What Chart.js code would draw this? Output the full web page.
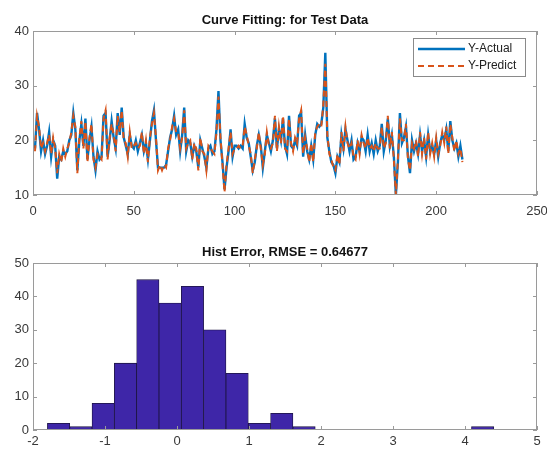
<!DOCTYPE html>
<html>
<head>
<meta charset="utf-8">
<script src="https://cdn.jsdelivr.net/npm/chart.js@4.4.0/dist/chart.umd.min.js"></script>
<style>
    body { margin: 0; background: #fff; }
    .panel { position: absolute; left: 0; }
</style>
</head>
<body>
<div class="panel" style="top:0"><canvas id="fitChart" width="547" height="222"></canvas></div>
<div class="panel" style="top:232px"><canvas id="histChart" width="547" height="217"></canvas></div>
<script>
// Curve fitting data (test set, 213 samples)
const yActual = [
    18.5, 25, 22, 18, 20, 17.5, 19, 21.5, 17, 20,
    19, 13, 17, 16.5, 18, 17.5, 18, 20, 21, 25,
    22, 14.5, 20, 23, 19, 24, 16.5, 20, 22.5, 17,
    14.5, 18, 16.5, 17, 24.5, 25, 17, 20, 23.5, 20.5,
    18.5, 25, 21, 26, 20.5, 19, 17.5, 21, 19, 18.5,
    20, 18, 19.5, 21, 18, 19.5, 16.5, 20, 23.5, 25.5,
    20, 15, 15, 15, 15, 15.5, 18, 20.5, 22, 24.5,
    21, 22, 18, 21, 26, 18, 20, 19.5, 17, 19,
    18, 15, 20, 18.5, 17, 15, 18.5, 19, 17.5, 18,
    22, 29, 20, 16, 11, 15, 18, 22, 17, 19,
    19, 18.5, 19, 18.5, 23, 20.5, 19.5, 17, 14.5, 16,
    19, 21, 19, 15, 18, 21, 19.5, 18, 20, 24,
    18.5, 22, 20, 24, 19, 17.5, 24.5, 19, 18.5, 20,
    19, 24.5, 25, 17, 21, 18, 16.5, 19, 16.5, 21,
    23, 22.5, 23, 26, 36, 20.5, 18, 16, 15.5, 14,
    17, 16, 21, 18.5, 22, 20, 18, 20, 16.5, 17,
    19.5, 18, 20.5, 20, 18, 21, 18, 19.5, 17.5, 20,
    18, 19, 23, 18, 20, 24, 19, 21, 17, 10,
    16, 25, 19.5, 20.5, 22.5, 17, 14, 20, 18, 19.5,
    17.5, 21, 18, 20, 17, 21, 18, 19, 17.5, 20,
    17, 19.5, 21, 20, 22, 18, 23.5, 20, 18.5, 19.5,
    17, 19, 16.5
];
const yPredict = [
    18, 24.5, 22.5, 18.5, 19.5, 18, 19.5, 21, 17.5, 20.5,
    18.5, 14, 17.5, 16, 18.5, 17, 18.5, 19.5, 21.5, 24.5,
    22.5, 14, 20.5, 23.5, 18.5, 23.5, 16, 20.5, 23, 16.5,
    15, 17.5, 17, 16.5, 24, 25.5, 16.5, 20.5, 23, 21,
    18, 24.5, 21.5, 25.5, 20, 19.5, 17, 21.5, 18.5, 19,
    19.5, 18.5, 19, 21.5, 17.5, 20, 16, 20.5, 23, 25,
    20.5, 14.5, 15.5, 14.5, 15.5, 15, 18.5, 20, 22.5, 24,
    21.5, 21.5, 18.5, 20.5, 25.5, 18.5, 19.5, 20, 16.5, 19.5,
    18.5, 14.5, 20.5, 18, 17.5, 14.5, 19, 18.5, 18, 17.5,
    21.5, 28, 20.5, 15.5, 10.5, 15.5, 18.5, 21.5, 17.5, 18.5,
    18.5, 19, 18.5, 19, 22.5, 21, 19, 17.5, 14, 16.5,
    18.5, 21.5, 18.5, 15.5, 17.5, 21.5, 19, 18.5, 19.5, 24.5,
    18, 22.5, 19.5, 24.5, 18.5, 18, 24, 19.5, 18, 20.5,
    19.5, 24, 25.5, 17.5, 20.5, 18.5, 16, 19.5, 16, 21.5,
    22.5, 23, 22.5, 26.5, 34, 21, 17.5, 16.5, 15, 14.5,
    17.5, 15.5, 21.5, 18, 22.5, 19.5, 18.5, 19.5, 17, 16.5,
    20, 17.5, 21, 19.5, 18.5, 20.5, 18.5, 19, 18, 19.5,
    18.5, 18.5, 22.5, 18.5, 19.5, 24.5, 18.5, 21.5, 16.5, 10,
    16.5, 24, 20, 20, 23, 16.5, 14.5, 19.5, 18.5, 20,
    17, 21.5, 17.5, 20.5, 16.5, 21.5, 17.5, 19.5, 17, 20.5,
    17.5, 19, 21.5, 19.5, 22.5, 17.5, 23, 20.5, 18, 20,
    17.5, 18.5, 16
];

// Error histogram
const binCenters = [-1.645, -1.335, -1.025, -0.715, -0.405, -0.095, 0.215, 0.525, 0.835, 1.145,
                    1.455, 1.765, 2.075, 2.385, 2.695, 3.005, 3.315, 3.625, 3.935, 4.245];
const binCounts = [2, 1, 8, 20, 45, 38, 43, 30, 17, 2, 5, 1, 0, 0, 0, 0, 0, 0, 0, 1];

const fitTitle = 'Curve Fitting: for Test Data';
const histTitle = 'Hist Error, RMSE = 0.64677';

Chart.defaults.font.family = "'Liberation Sans', Arial, sans-serif";
Chart.defaults.font.size = 13;
Chart.defaults.color = '#383838';
Chart.defaults.animation = false;

// MATLAB style box with inward ticks
const axesBox = {
    id: 'axesBox',
    afterDraw(chart) {
        const { ctx, chartArea: a, scales } = chart;
        const len = 4;
        ctx.save();
        ctx.strokeStyle = '#9a9a9a';
        ctx.lineWidth = 1;
        ctx.strokeRect(a.left + 0.5, a.top + 0.5, a.width - 1, a.height - 1);
        ctx.beginPath();
        scales.x.ticks.forEach(t => {
            const px = Math.round(scales.x.getPixelForValue(t.value)) + 0.5;
            ctx.moveTo(px, a.bottom); ctx.lineTo(px, a.bottom - len);
            ctx.moveTo(px, a.top); ctx.lineTo(px, a.top + len);
        });
        scales.y.ticks.forEach(t => {
            const py = Math.round(scales.y.getPixelForValue(t.value)) + 0.5;
            ctx.moveTo(a.left, py); ctx.lineTo(a.left + len, py);
            ctx.moveTo(a.right, py); ctx.lineTo(a.right - len, py);
        });
        ctx.stroke();
        ctx.restore();
    }
};

// Title centred over the axes
const axesTitle = {
    id: 'axesTitle',
    afterDraw(chart, args, opts) {
        const { ctx, chartArea: a } = chart;
        ctx.save();
        ctx.font = "bold 13px 'Liberation Sans', Arial, sans-serif";
        ctx.fillStyle = '#111';
        ctx.textAlign = 'center';
        ctx.textBaseline = 'alphabetic';
        ctx.fillText(opts.text, (a.left + a.right) / 2, a.top - 7);
        ctx.restore();
    }
};

// Boxed legend in the upper right corner
const boxLegend = {
    id: 'boxLegend',
    afterDraw(chart) {
        const { ctx, chartArea: a } = chart;
        const w = 112, h = 38;
        const x0 = a.right - 12 - w, y0 = a.top + 7;
        ctx.save();
        ctx.fillStyle = '#fff';
        ctx.fillRect(x0, y0, w, h);
        ctx.strokeStyle = '#8a8a8a';
        ctx.lineWidth = 1;
        ctx.strokeRect(x0 + 0.5, y0 + 0.5, w, h);
        ctx.font = "12px 'Liberation Sans', Arial, sans-serif";
        ctx.textBaseline = 'middle';
        chart.data.datasets.forEach((ds, i) => {
            const y = y0 + 11 + i * 17;
            ctx.strokeStyle = ds.borderColor;
            ctx.lineWidth = ds.borderWidth;
            ctx.setLineDash(ds.borderDash || []);
            ctx.beginPath();
            ctx.moveTo(x0 + 5, y);
            ctx.lineTo(x0 + 52, y);
            ctx.stroke();
            ctx.setLineDash([]);
            ctx.fillStyle = '#222';
            ctx.fillText(ds.label, x0 + 55, y);
        });
        ctx.restore();
    }
};

function fixAxis(size) {
    return function(scale) {
        if (scale.isHorizontal()) {
            scale.height = size;
        } else {
            scale.width = size;
        }
        scale.paddingLeft = 0;
        scale.paddingRight = 0;
        scale.paddingTop = 0;
        scale.paddingBottom = 0;
    };
}

new Chart(document.getElementById('fitChart'), {
    type: 'line',
    data: {
        datasets: [{
            label: 'Y-Actual',
            data: yActual.map((v, i) => ({ x: i + 1, y: v })),
            borderColor: '#0072BD',
            borderWidth: 2.4,
            pointRadius: 0,
            tension: 0,
            order: 1
        }, {
            label: 'Y-Predict',
            data: yPredict.map((v, i) => ({ x: i + 1, y: v })),
            borderColor: '#D95319',
            borderWidth: 2,
            borderDash: [6, 4],
            pointRadius: 0,
            tension: 0,
            order: 0
        }]
    },
    options: {
        responsive: false,
        layout: { padding: { top: 31, right: 10, left: 0, bottom: 0 } },
        plugins: {
            legend: { display: false },
            tooltip: { enabled: false },
            axesTitle: { text: fitTitle }
        },
        scales: {
            x: {
                type: 'linear',
                min: 0,
                max: 250,
                ticks: { stepSize: 50, padding: 9, maxRotation: 0 },
                grid: { display: false, drawTicks: false },
                border: { display: false },
                afterFit: fixAxis(27)
            },
            y: {
                min: 10,
                max: 40,
                ticks: { stepSize: 10, padding: 4 },
                grid: { display: false, drawTicks: false },
                border: { display: false },
                afterFit: fixAxis(33)
            }
        }
    },
    plugins: [axesBox, axesTitle, boxLegend]
});

new Chart(document.getElementById('histChart'), {
    type: 'bar',
    data: {
        datasets: [{
            label: 'Error',
            data: binCenters.map((c, i) => ({ x: c, y: binCounts[i] })),
            backgroundColor: '#3E26A8',
            borderColor: '#1c1440',
            borderWidth: ctx => (ctx.raw && ctx.raw.y ? 0.8 : 0),
            borderSkipped: false,
            barPercentage: 1,
            categoryPercentage: 1
        }]
    },
    options: {
        responsive: false,
        layout: { padding: { top: 31, right: 10, left: 0, bottom: 0 } },
        plugins: {
            legend: { display: false },
            tooltip: { enabled: false },
            axesTitle: { text: histTitle }
        },
        scales: {
            x: {
                type: 'linear',
                min: -2,
                max: 5,
                offset: false,
                ticks: { stepSize: 1, padding: 4, maxRotation: 0 },
                grid: { display: false, drawTicks: false },
                border: { display: false },
                afterFit: fixAxis(19)
            },
            y: {
                min: 0,
                max: 50,
                ticks: { stepSize: 10, padding: 4 },
                grid: { display: false, drawTicks: false },
                border: { display: false },
                afterFit: fixAxis(33)
            }
        }
    },
    plugins: [axesBox, axesTitle]
});
</script>
</body>
</html>
